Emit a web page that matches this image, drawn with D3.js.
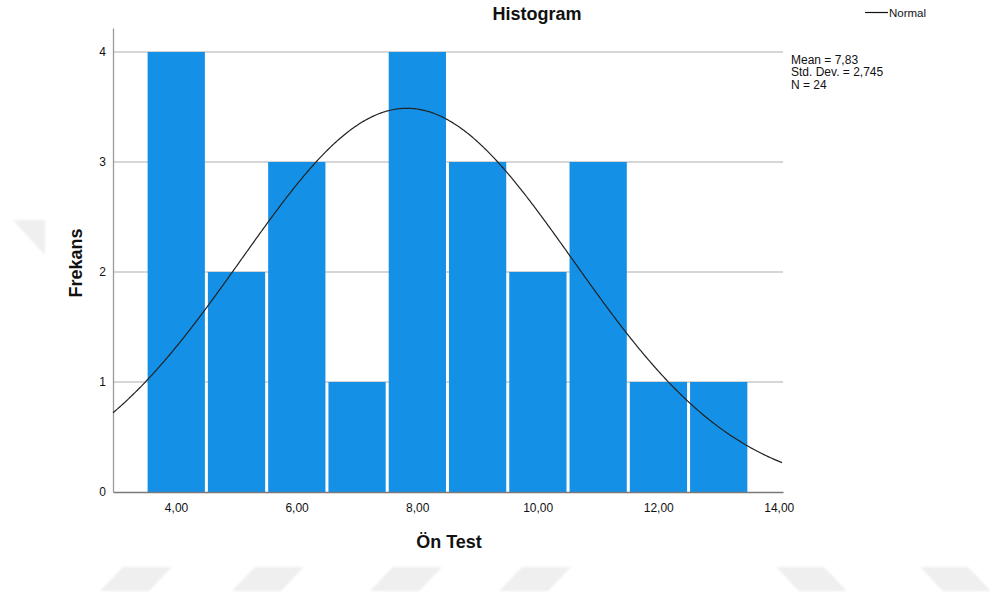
<!DOCTYPE html>
<html>
<head>
<meta charset="utf-8">
<script src="https://cdn.jsdelivr.net/npm/d3@7"></script>
<style>
  html, body { margin: 0; padding: 0; background: #fff; }
  svg { display: block; font-family: "Liberation Sans", Arial, sans-serif; }
</style>
</head>
<body>
<svg id="chart" width="990" height="602"></svg>
<script>
// Histogram of pre-test scores ("Ön Test") with fitted normal curve
const binCenters = [4, 5, 6, 7, 8, 9, 10, 11, 12, 13];
const frequencies = [4, 2, 3, 1, 4, 3, 2, 3, 1, 1];
const xTicks = [4, 6, 8, 10, 12, 14];
const yTicks = [0, 1, 2, 3, 4];
const mean = 7.83;
const stdDev = 2.745;
const nCases = 24;
const binWidth = 1;
const statLines = ["Mean = 7,83", "Std. Dev. = 2,745", "N = 24"];

const svg = d3.select("#chart");

// faint background marks along the page bottom and left edge
const defs = svg.append("defs");
defs.append("filter").attr("id", "soft")
  .attr("x", "-20%").attr("y", "-20%").attr("width", "140%").attr("height", "140%")
  .append("feGaussianBlur").attr("stdDeviation", 0.9);
const deco = svg.append("g").attr("fill", "#efefef").attr("filter", "url(#soft)");
const slants = [
  [[123,567],[172,567],[149,591],[100,591]],
  [[255,567],[304,567],[281,591],[232,591]],
  [[393,567],[442,567],[419,591],[370,591]],
  [[522,567],[571,567],[548,591],[499,591]],
  [[776,567],[824,567],[847,591],[799,591]],
  [[920,567],[968,567],[991,591],[943,591]],
  [[13,220],[45,220],[45,255]]
];
deco.selectAll("polygon").data(slants).join("polygon")
  .attr("points", d => d.map(p => p.join(",")).join(" "));

const x = d3.scaleLinear().domain([2.954, 14.07]).range([113, 783]);
const y = d3.scaleLinear().domain([0, 4.218]).range([492, 28]);

const fmt = v => d3.format(".2f")(v).replace(".", ",");

// horizontal gridlines
svg.append("g")
  .selectAll("line").data(yTicks.filter(d => d > 0)).join("line")
  .attr("x1", x.range()[0]).attr("x2", x.range()[1])
  .attr("y1", d => y(d)).attr("y2", d => y(d))
  .attr("stroke", "#c9c9c9").attr("stroke-width", 1.3);

// bars
svg.append("g")
  .selectAll("rect").data(binCenters).join("rect")
  .attr("x", (d) => x(d - binWidth / 2) + 1.7)
  .attr("width", (d) => x(d + binWidth / 2) - x(d - binWidth / 2) - 3)
  .attr("y", (d, i) => y(frequencies[i]))
  .attr("height", (d, i) => y(0) - y(frequencies[i]))
  .attr("fill", "#1491e7");

// axes
const xAxis = d3.axisBottom(x).tickValues(xTicks).tickFormat(fmt).tickSize(0).tickPadding(11);
const gx = svg.append("g").attr("transform", `translate(0,${y(0)})`).call(xAxis);
gx.select(".domain").attr("stroke", "#7a7a7a").attr("stroke-width", 1.3);
gx.selectAll("text").attr("font-size", 12).attr("fill", "#111")
  .attr("font-family", "Liberation Sans, Arial, sans-serif");

const yAxis = d3.axisLeft(y).tickValues(yTicks).tickFormat(d3.format("d")).tickSize(0).tickPadding(7);
const gy = svg.append("g").attr("transform", `translate(${x.range()[0]},0)`).call(yAxis);
gy.select(".domain").attr("stroke", "#9a9a9a").attr("stroke-width", 1.3);
gy.selectAll("text").attr("font-size", 12).attr("fill", "#111")
  .attr("font-family", "Liberation Sans, Arial, sans-serif");

// normal curve scaled to counts
const pdf = v => Math.exp(-0.5 * ((v - mean) / stdDev) ** 2) / (stdDev * Math.sqrt(2 * Math.PI));
const xs = d3.range(x.domain()[0], x.domain()[1] + 1e-9, 0.02);
const line = d3.line().x(v => x(v)).y(v => y(nCases * binWidth * pdf(v)));
svg.append("path").datum(xs)
  .attr("d", line)
  .attr("fill", "none").attr("stroke", "#222").attr("stroke-width", 1.2);

// titles
svg.append("text").attr("x", 537).attr("y", 20)
  .attr("text-anchor", "middle").attr("font-size", 18).attr("font-weight", "bold")
  .attr("fill", "#111").text("Histogram");

svg.append("text").attr("x", 449).attr("y", 548)
  .attr("text-anchor", "middle").attr("font-size", 18).attr("font-weight", "bold")
  .attr("fill", "#111").text("Ön Test");

svg.append("text")
  .attr("transform", "translate(82,263) rotate(-90)")
  .attr("text-anchor", "middle").attr("font-size", 18).attr("font-weight", "bold")
  .attr("fill", "#111").text("Frekans");

// legend
svg.append("line").attr("x1", 865).attr("x2", 888).attr("y1", 12.5).attr("y2", 12.5)
  .attr("stroke", "#111").attr("stroke-width", 1.2);
svg.append("text").attr("x", 889).attr("y", 17)
  .attr("font-size", 11.5).attr("fill", "#111").text("Normal");

// summary statistics
svg.append("g").selectAll("text").data(statLines).join("text")
  .attr("x", 791).attr("y", (d, i) => 64 + i * 12.4)
  .attr("font-size", 12).attr("fill", "#111").text(d => d);
</script>
</body>
</html>
